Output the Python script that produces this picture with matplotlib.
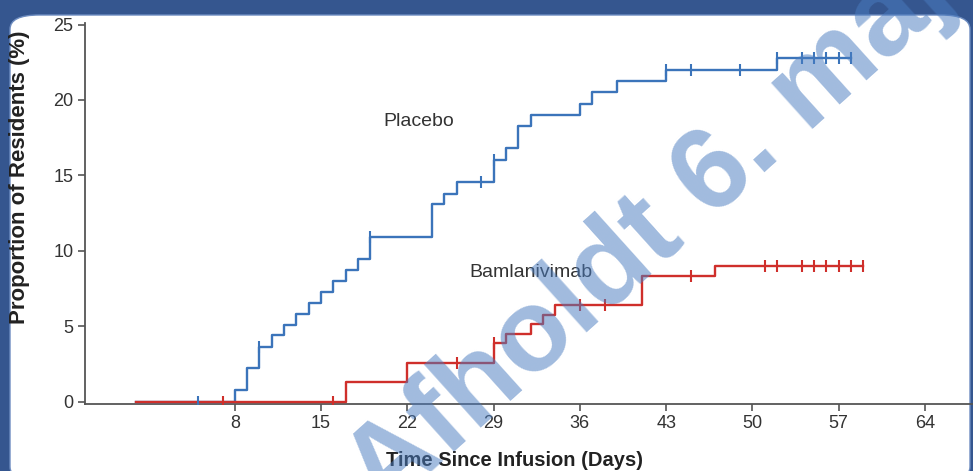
import numpy as np
import matplotlib.pyplot as plt
from matplotlib.patches import FancyBboxPatch

plt.rcParams['font.family'] = ['Liberation Sans', 'DejaVu Sans']

# Kaplan-Meier style cumulative incidence (%), step changes by day
days_pbo = [0, 8, 9, 10, 11, 12, 13, 14, 15, 16, 17, 18, 19, 24, 25, 26, 29, 30, 31, 32, 36, 37, 39, 43, 52, 58]
pct_pbo = [0, 0.75, 2.25, 3.65, 4.4, 5.1, 5.8, 6.55, 7.3, 8.0, 8.7, 9.45, 10.95, 13.1, 13.8, 14.55,
           16.05, 16.8, 18.3, 19.0, 19.75, 20.5, 21.25, 22.0, 22.8, 22.8]
days_bam = [0, 17, 22, 29, 30, 32, 33, 34, 41, 47, 59]
pct_bam = [0, 1.3, 2.6, 3.9, 4.5, 5.15, 5.75, 6.4, 8.3, 9.0, 9.0]

# censored observations
cens_pbo = [5, 10, 19, 28, 29, 43, 45, 49, 52, 54, 55, 56, 57, 58]
cens_bam = [7, 16, 26, 29, 36, 38, 45, 51, 52, 54, 55, 56, 57, 58, 59]

xticks = [8, 15, 22, 29, 36, 43, 50, 57, 64]
yticks = [0, 5, 10, 15, 20, 25]

blue = '#3b74ba'
red = '#cf2f2b'

W, H = 973, 471
fig = plt.figure(figsize=(W / 100, H / 100), dpi=100)
fig.patch.set_facecolor('#35568f')

# white rounded panel behind everything
panel = FancyBboxPatch((10 / W, -10 / H), 960 / W, 466 / H,
                       boxstyle='round,pad=0,rounding_size=0.03',
                       transform=fig.transFigure, facecolor='white',
                       edgecolor='#6d8cc0', linewidth=1.0, zorder=-10)
fig.patches.append(panel)

ax = fig.add_axes([84.5 / W, 66.7 / H, (W - 84.5) / W, (404.3 - 23) / H])
ax.set_facecolor('none')
ax.set_zorder(1)


def level_at(days, pct, d):
    i = np.searchsorted(days, d, side='right') - 1
    return pct[i]


ax.step(days_pbo, pct_pbo, where='post', color=blue, lw=1.7, zorder=3)
ax.step(days_bam, pct_bam, where='post', color=red, lw=1.7, zorder=4)

ax.plot(cens_pbo, [level_at(days_pbo, pct_pbo, d) for d in cens_pbo], ls='none',
        marker='|', ms=9, mew=1.5, color=blue, zorder=5)
ax.plot(cens_bam, [level_at(days_bam, pct_bam, d) for d in cens_bam], ls='none',
        marker='|', ms=9, mew=1.5, color=red, zorder=5)

ax.text(22.9, 18.6, 'Placebo', fontsize=14, color='#333333', ha='center', va='center')
ax.text(32.0, 8.55, 'Bamlanivimab', fontsize=14, color='#333333', ha='center', va='center')

ax.set_xlim(-4.2, 67.9)
ax.set_ylim(-0.17, 25.1)
ax.set_xticks(xticks)
ax.set_yticks(yticks)
for s in ['top', 'right']:
    ax.spines[s].set_visible(False)
for s in ['left', 'bottom']:
    ax.spines[s].set_color('#555555')
    ax.spines[s].set_linewidth(1.3)
ax.tick_params(axis='both', length=5, width=1.2, color='#555555', labelsize=13,
               labelcolor='#333333', pad=3)

fig.text(515 / W, 1 - 461 / H, 'Time Since Infusion (Days)', fontsize=14.5,
         fontweight='bold', color='#222222', ha='center', va='center')
fig.text(20 / W, 1 - 177 / H, 'Proportion of Residents (%)', fontsize=16,
         fontweight='bold', color='#222222', ha='center', va='center', rotation=90)

# watermark over the whole slide
fig.text(650 / W, 1 - 235 / H, 'Afholdt 6. maj', fontsize=84, fontweight='bold',
         color='#4a7cc0', alpha=0.52, rotation=42, rotation_mode='anchor',
         ha='center', va='center', zorder=10)

fig.savefig('out.png', dpi=100, facecolor=fig.get_facecolor())
